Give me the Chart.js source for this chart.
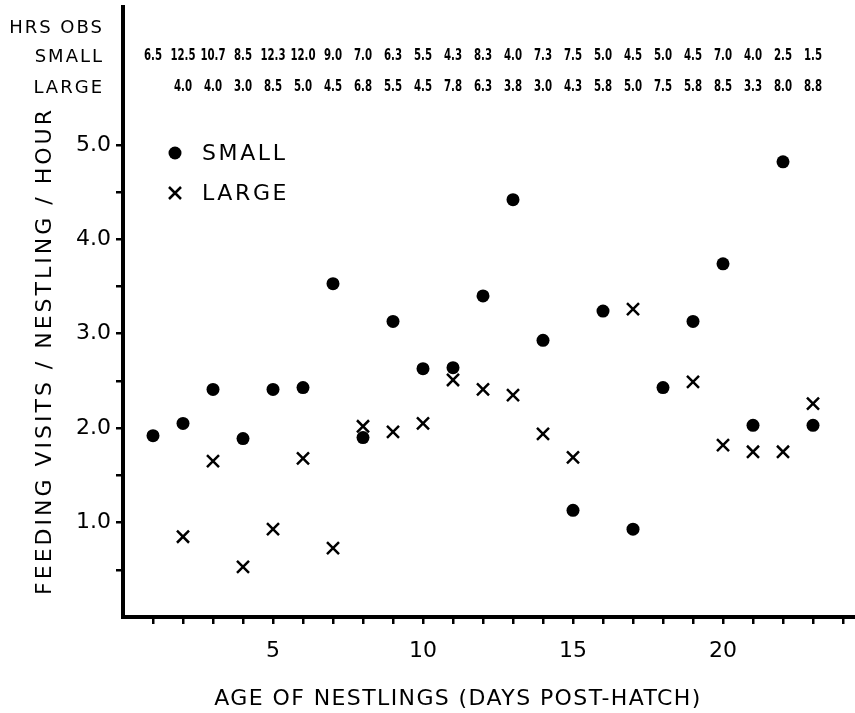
<!DOCTYPE html>
<html>
<head>
<meta charset="utf-8">
<title>Feeding visits per nestling</title>
<script src="https://cdn.jsdelivr.net/npm/chart.js@4/dist/chart.umd.min.js"></script>
<style>
  html, body { margin: 0; padding: 0; background: #fff; }
  canvas { display: block; }
</style>
</head>
<body>
<canvas id="chart" width="855" height="713"></canvas>
<script>
// --- DATA ---
const days = [1, 2, 3, 4, 5, 6, 7, 8, 9, 10, 11, 12, 13, 14, 15, 16, 17, 18, 19, 20, 21, 22, 23];
const smallVisits = [1.92, 2.05, 2.41, 1.89, 2.41, 2.43, 3.53, 1.90, 3.13, 2.63, 2.64, 3.40, 4.42, 2.93, 1.13, 3.24, 0.93, 2.43, 3.13, 3.74, 2.03, 4.82, 2.03];
const largeVisits = [null, 0.85, 1.65, 0.53, 0.93, 1.68, 0.73, 2.02, 1.96, 2.05, 2.51, 2.41, 2.35, 1.94, 1.69, null, 3.26, null, 2.49, 1.82, 1.75, 1.75, 2.26];

// hours of observation printed above the plot
const hrsSmall = ['6.5', '12.5', '10.7', '8.5', '12.3', '12.0', '9.0', '7.0', '6.3', '5.5', '4.3', '8.3', '4.0', '7.3', '7.5', '5.0', '4.5', '5.0', '4.5', '7.0', '4.0', '2.5', '1.5'];
const hrsLarge = ['', '4.0', '4.0', '3.0', '8.5', '5.0', '4.5', '6.8', '5.5', '4.5', '7.8', '6.3', '3.8', '3.0', '4.3', '5.8', '5.0', '7.5', '5.8', '8.5', '3.3', '8.0', '8.8'];

const xTickValues = [1, 2, 3, 4, 5, 6, 7, 8, 9, 10, 11, 12, 13, 14, 15, 16, 17, 18, 19, 20, 21, 22, 23, 24];
const xTickLabels = { 5: '5', 10: '10', 15: '15', 20: '20' };
const yTickValues = [0.5, 1, 1.5, 2, 2.5, 3, 3.5, 4, 4.5, 5];

const FONT = '"DejaVu Sans", sans-serif';

const toPoints = (values) => days.map((d, i) => ({ x: d, y: values[i] }));

// no extra room for end labels, the plot area is set by the layout padding
const noScalePadding = (scale) => {
    scale.paddingTop = 0;
    scale.paddingBottom = 0;
    scale.paddingLeft = 0;
    scale.paddingRight = 0;
};

/**
 * Header rows, legend and axis titles (drawn by hand for the letter spacing).
 */
const annotations = {
    id: 'annotations',
    afterDraw(chart) {
        const ctx = chart.ctx;
        const xScale = chart.scales.x;
        ctx.save();
        ctx.fillStyle = '#000';
        ctx.strokeStyle = '#000';

        // row labels
        ctx.font = '18px ' + FONT;
        ctx.letterSpacing = '2px';
        ctx.textAlign = 'right';
        ctx.textBaseline = 'middle';
        ctx.fillText('HRS OBS', 104, 28);
        ctx.fillText('SMALL', 104, 57);
        ctx.fillText('LARGE', 104, 88);

        // hours per day, narrow lettering
        ctx.letterSpacing = '0px';
        ctx.font = 'bold 15px ' + FONT;
        ctx.textAlign = 'center';
        days.forEach((d, i) => {
            const px = xScale.getPixelForValue(d);
            ctx.save();
            ctx.translate(px, 0);
            ctx.scale(0.68, 1);
            ctx.fillText(hrsSmall[i], 0, 56);
            ctx.fillText(hrsLarge[i], 0, 87);
            ctx.restore();
        });

        // legend
        ctx.beginPath();
        ctx.arc(175, 153, 6.5, 0, Math.PI * 2);
        ctx.fill();
        ctx.lineWidth = 2.5;
        ctx.beginPath();
        ctx.moveTo(169, 187); ctx.lineTo(181, 199);
        ctx.moveTo(181, 187); ctx.lineTo(169, 199);
        ctx.stroke();
        ctx.font = '22px ' + FONT;
        ctx.letterSpacing = '2.6px';
        ctx.textAlign = 'left';
        ctx.fillText('SMALL', 202, 154);
        ctx.fillText('LARGE', 202, 194);

        // axis titles
        ctx.letterSpacing = '1.4px';
        ctx.textAlign = 'center';
        ctx.fillText('AGE OF NESTLINGS (DAYS POST-HATCH)', 458, 699);

        ctx.translate(45, 351);
        ctx.rotate(-Math.PI / 2);
        ctx.letterSpacing = '3px';
        ctx.fillText('FEEDING VISITS / NESTLING / HOUR', 0, 0);
        ctx.restore();
    }
};

const chart = new Chart(document.getElementById('chart'), {
    type: 'scatter',
    data: {
        datasets: [{
            label: 'SMALL',
            data: toPoints(smallVisits),
            pointStyle: 'circle',
            pointRadius: 6.5,
            backgroundColor: '#000',
            borderWidth: 0
        }, {
            label: 'LARGE',
            data: toPoints(largeVisits),
            pointStyle: 'crossRot',
            pointRadius: 8.5,
            borderColor: '#000',
            borderWidth: 2.5
        }]
    },
    options: {
        responsive: false,
        animation: false,
        layout: { autoPadding: false, padding: { left: 73, right: 0, top: 7, bottom: 46 } },
        plugins: {
            legend: { display: false },
            tooltip: { enabled: false }
        },
        scales: {
            x: {
                type: 'linear',
                min: 0,
                max: 24.4,
                afterBuildTicks: (scale) => { scale.ticks = xTickValues.map(v => ({ value: v })); },
                afterFit: (scale) => { scale.height = 50; noScalePadding(scale); },
                border: { display: true, color: '#000', width: 4 },
                grid: { drawOnChartArea: false, drawTicks: true, tickLength: 7, color: '#000', lineWidth: 2.5 },
                ticks: {
                    color: '#000',
                    padding: 14,
                    maxRotation: 0,
                    autoSkip: false,
                    font: { family: FONT, size: 22 },
                    callback: (v) => xTickLabels[v] || ''
                }
            },
            y: {
                type: 'linear',
                min: 0,
                max: 6.46,
                afterBuildTicks: (scale) => { scale.ticks = yTickValues.map(v => ({ value: v })); },
                afterFit: (scale) => { scale.width = 50; noScalePadding(scale); },
                border: { display: true, color: '#000', width: 4 },
                grid: { drawOnChartArea: false, drawTicks: true, tickLength: 7, color: '#000', lineWidth: 2.5 },
                ticks: {
                    color: '#000',
                    padding: 5,
                    autoSkip: false,
                    font: { family: FONT, size: 22 },
                    callback: (v) => Number.isInteger(v) ? v.toFixed(1) : ''
                }
            }
        }
    },
    plugins: [annotations]
});
</script>
</body>
</html>
